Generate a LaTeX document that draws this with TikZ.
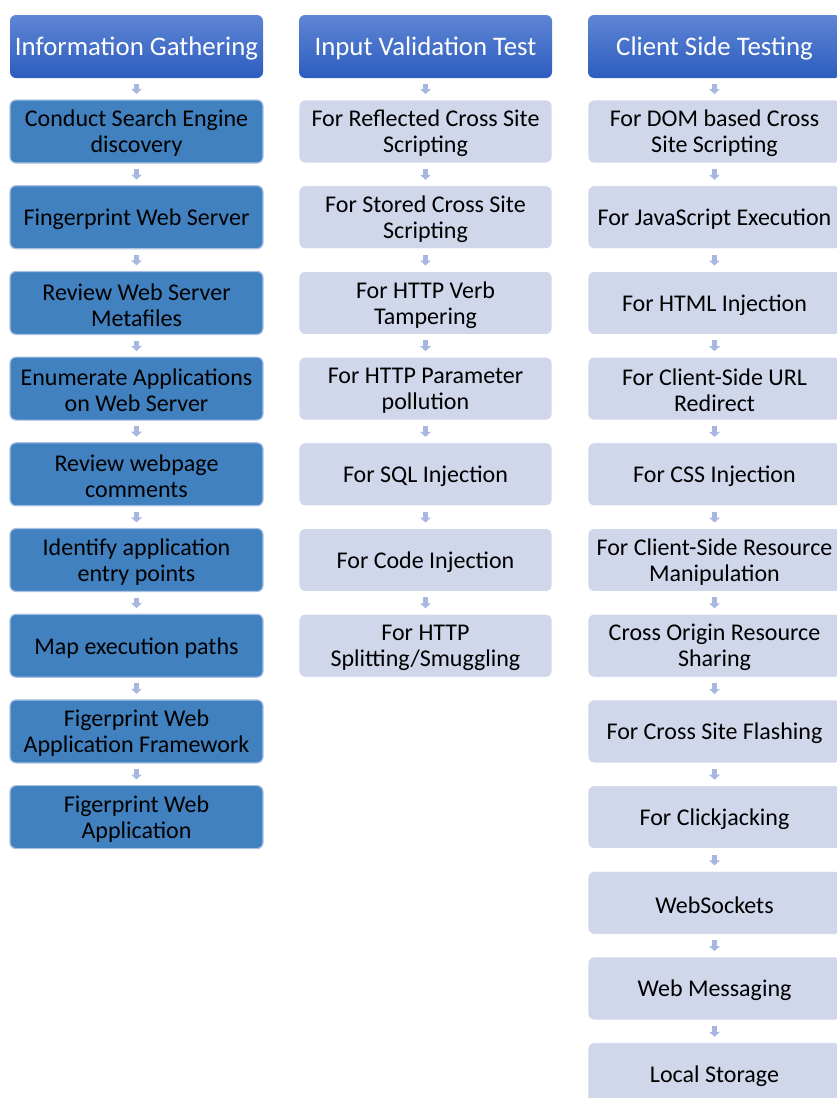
\documentclass[tikz,border=0pt]{standalone}
\usepackage{fontspec}
\setmainfont{Carlito}
\usetikzlibrary{arrows.meta,shadings}

\definecolor{headtop}{HTML}{5F86D4}
\definecolor{headbot}{HTML}{2C5CBF}
\definecolor{stepblue}{HTML}{4181C0}
\definecolor{stepedge}{HTML}{A9C1E3}
\definecolor{steplight}{HTML}{D1D7EB}
\definecolor{flowarrow}{HTML}{A7B7E0}

\tikzset{
  box/.style={minimum width=253pt, minimum height=63pt, rounded corners=6pt,
    inner sep=0pt},
  caption/.style={align=center, inner sep=0pt, yshift=-2pt},
  header/.style={box, top color=headtop, bottom color=headbot,
    label={[caption, text=white, font=\fontsize{26.8}{31}\selectfont]center:#1}},
  darkbox/.style={box, fill=stepblue, draw=stepedge, line width=1.2pt,
    label={[caption, text=black, font=\fontsize{24}{26}\selectfont]center:#1}},
  lightbox/.style={box, fill=steplight, draw=white, line width=0.8pt,
    label={[caption, text=black, font=\fontsize{24}{26}\selectfont]center:#1}},
  flow/.style={draw=flowarrow, line width=5pt,
    -{Triangle[width=10.5pt,length=5pt]}, shorten <=5.5pt, shorten >=5.5pt}
}

\begin{document}
\begin{tikzpicture}[x=1pt,y=-1pt]
\useasboundingbox (0,0) rectangle (837,1098);
\clip (0,0) rectangle (837,1098);

% column headers
\node[header={Information Gathering}] (h1) at (136.5,46.5) {};
\node[header={Input Validation Test}] (h2) at (425.5,46.5) {};
\node[header={Client Side Testing}] (h3) at (714.5,46.5) {};

% information gathering
\foreach \t [count=\i] in {
  {Conduct Search Engine\\discovery},
  {Fingerprint Web Server},
  {Review Web Server\\Metafiles},
  {Enumerate Applications\\on Web Server},
  {Review webpage\\comments},
  {Identify application\\entry points},
  {Map execution paths},
  {Figerprint Web\\Application Framework},
  {Figerprint Web\\Application}}
  \node[darkbox={\t}] (a\i) at (136.5,{131.5+(\i-1)*85.7}) {};

% input validation
\foreach \t [count=\i] in {
  {For Reflected Cross Site\\Scripting},
  {For Stored Cross Site\\Scripting},
  {For HTTP Verb\\Tampering},
  {For HTTP Parameter\\pollution},
  {For SQL Injection},
  {For Code Injection},
  {For HTTP\\Splitting/Smuggling}}
  \node[lightbox={\t}] (b\i) at (425.5,{131.5+(\i-1)*85.7}) {};

% client side testing
\foreach \t [count=\i] in {
  {For DOM based Cross\\Site Scripting},
  {For JavaScript Execution},
  {For HTML Injection},
  {For Client-Side URL\\Redirect},
  {For CSS Injection},
  {For Client-Side Resource\\Manipulation},
  {Cross Origin Resource\\Sharing},
  {For Cross Site Flashing},
  {For Clickjacking},
  {WebSockets},
  {Web Messaging},
  {Local Storage}}
  \node[lightbox={\t}] (c\i) at (714.5,{131.5+(\i-1)*85.7}) {};

% connectors
\draw[flow] (h1.south) -- (a1.north);
\draw[flow] (h2.south) -- (b1.north);
\draw[flow] (h3.south) -- (c1.north);
\foreach \i [evaluate=\i as \j using int(\i+1)] in {1,...,8}
  \draw[flow] (a\i.south) -- (a\j.north);
\foreach \i [evaluate=\i as \j using int(\i+1)] in {1,...,6}
  \draw[flow] (b\i.south) -- (b\j.north);
\foreach \i [evaluate=\i as \j using int(\i+1)] in {1,...,11}
  \draw[flow] (c\i.south) -- (c\j.north);
\end{tikzpicture}
\end{document}
